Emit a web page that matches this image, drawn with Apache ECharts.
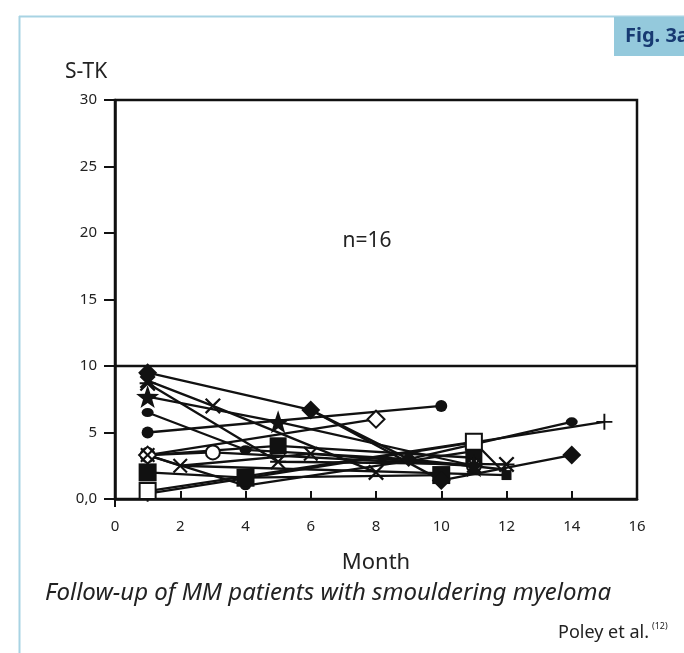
<!DOCTYPE html>
<html><head><meta charset="utf-8">
<script src="https://cdn.jsdelivr.net/npm/echarts@6/dist/echarts.min.js"></script>
<style>html,body{margin:0;padding:0;background:#fff}#c{width:684px;height:653px}</style>
</head><body><div id="c"></div>
<script>
// ---- data (month, S-TK) ----
const xTicks = [0,2,4,6,8,10,12,14,16];
const yTicks = [0,5,10,15,20,25,30];
const pDiamond   = [[1,9.5],[6,6.7],[10,1.4],[14,3.3]];
const pCross1    = [[1,8.9],[3,7.0],[8,2.0]];
const pCross2    = [[1,8.7],[5,2.8],[12,2.6]];
const pStar      = [[1,7.7],[5,5.8],[11,2.5]];
const pEllipse   = [[1,6.5],[4,3.7],[9,3.0],[14,5.8]];
const pCircle    = [[1,5.0],[10,7.0]];
const pOpenDiam  = [[1,3.3],[8,6.0]];
const pOpenCirc  = [[1,3.3],[3,3.5],[11,2.5]];
const pCross3    = [[1,3.3],[2,2.5],[6,3.4],[11,2.5]];
const pSmallDot  = [[1,3.3],[4,1.0],[11,3.6]];
const pSquare    = [[1,2.0],[4,1.6],[10,1.8]];
const pOpenSq    = [[1,0.6],[11,4.3],[12,1.8]];
const pPlus      = [[1,0.4],[15,5.8]];
const pSquare2   = [[1,3.3],[5,4.0],[11,3.1]];
const pDiamond2  = [[6,6.7],[9,3.0],[12,2.2]];
const pSmallSq   = [[2,2.5],[12,1.8]];
const refLine    = 10;
const nLabel     = 'n=16';

const X_PATH = 'path://M0,2 L2,0 L10,8 L18,0 L20,2 L12,10 L20,18 L18,20 L10,12 L2,20 L0,18 L8,10 Z';
const AST_PATH = 'path://M0,2 L2,0 L10,8 L18,0 L20,2 L12,10 L20,18 L18,20 L10,12 L2,20 L0,18 L8,10 Z M0,8.8 L20,8.8 L20,11.2 L0,11.2 Z';
const PLUS_PATH = 'path://M8.8,0 L11.2,0 L11.2,8.8 L20,8.8 L20,11.2 L11.2,11.2 L11.2,20 L8.8,20 L8.8,11.2 L0,11.2 L0,8.8 L8.8,8.8 Z';
const STAR_PATH = 'path://M0,-10 L2.35,-3.24 L9.51,-3.09 L3.8,1.24 L5.88,8.09 L0,4 L-5.88,8.09 L-3.8,1.24 L-9.51,-3.09 L-2.35,-3.24 Z';

function mk(data, symbol, size, extra) {
  return Object.assign({
    type: 'line', data: data, symbol: symbol, symbolSize: size,
    showAllSymbol: true, animation: false, silent: true,
    lineStyle: { color: '#111', width: 2.3 },
    itemStyle: { color: '#111', borderColor: '#111', borderWidth: 0 }
  }, extra || {});
}
// hide the marker of selected points (shared with another patient's marker)
function hideAt(arr, idxs) {
  return arr.map((p, i) => (idxs.indexOf(i) >= 0 ? { value: p, symbol: 'none' } : p));
}
const openItem = { itemStyle: { color: '#111', borderColor: '#111', borderWidth: 2.3 } };

const series = [
  mk(hideAt(pSmallDot, [0]), 'circle', [11,9]),
  mk(pSmallSq, 'none', 1, { showSymbol: false }),
  mk(pDiamond2, 'none', 1, { showSymbol: false }),
  mk(hideAt(pSquare2, [0]), 'rect', 17),
  mk(pPlus, PLUS_PATH, 16),
  mk(hideAt(pOpenSq, [2]), 'emptyRect', 16, openItem),
  mk(pSquare, 'rect', 18),
  mk(pOpenCirc, 'emptyCircle', 14, openItem),
  mk(pOpenDiam, 'emptyDiamond', 17, openItem),
  mk(pCross3, X_PATH, 15),
  mk(pCircle, 'circle', 12),
  mk(pEllipse, 'circle', [12,9]),
  mk(pStar, STAR_PATH, 23),
  mk(pCross2, AST_PATH, 16),
  mk(pCross1, X_PATH, 16),
  mk(pDiamond, 'diamond', 19),
  mk([[12,1.8]], 'rect', 10),
  mk([[9,3.0]], 'diamond', 16),
  mk([[0,refLine],[16,refLine]], 'none', 1, { showSymbol:false, lineStyle:{color:'#111', width:2.3} })
];

const chart = echarts.init(document.getElementById('c'), null, { renderer: 'canvas' });
const FONT = 'Noto Sans';
chart.setOption({
  animation: false,
  grid: { left: 115, right: 47, top: 100, bottom: 154, show: true, borderColor: '#111', borderWidth: 2.5, backgroundColor: 'transparent' },
  xAxis: {
    type: 'value', min: 0, max: 16, interval: 2,
    name: 'Month', nameLocation: 'middle', nameGap: 53,
    nameTextStyle: { fontFamily: FONT, fontSize: 22, color: '#222' },
    axisLine: { show: true, lineStyle: { color: '#111', width: 2.5 } },
    axisTick: { show: true, inside: true, length: 8, lineStyle: { color: '#111', width: 2 } },
    axisLabel: { fontFamily: FONT, fontSize: 15, color: '#222', margin: 20 },
    splitLine: { show: false }
  },
  yAxis: {
    type: 'value', min: 0, max: 30, interval: 5,
    axisLine: { show: true, lineStyle: { color: '#111', width: 2.5 } },
    axisTick: { show: true, inside: false, length: 11, lineStyle: { color: '#111', width: 2 } },
    axisLabel: { fontFamily: FONT, fontSize: 15, color: '#222', margin: 18,
      formatter: v => (v === 0 ? '0,0' : String(v)) },
    splitLine: { show: false }
  },
  graphic: [
    { type: 'line', shape: { x1: 19.5, y1: 16, x2: 19.5, y2: 653 }, style: { stroke: '#a8d3e3', lineWidth: 2 } },
    { type: 'line', shape: { x1: 19, y1: 16.5, x2: 684, y2: 16.5 }, style: { stroke: '#a8d3e3', lineWidth: 2 } },
    { type: 'rect', shape: { x: 614, y: 17, width: 70, height: 39 }, style: { fill: '#94c9dc' } },
    { type: 'text', x: 625, y: 36, style: { text: 'Fig. 3a', fontFamily: FONT, fontSize: 20, fontWeight: 'bold', fill: '#173a72', verticalAlign: 'middle' } },
    { type: 'text', x: 65, y: 72, style: { text: 'S-TK', fontFamily: FONT, fontSize: 21, fill: '#222', verticalAlign: 'middle' } },
    { type: 'text', x: 367, y: 241, style: { text: nLabel, fontFamily: FONT, fontSize: 21, fill: '#222', align: 'center', verticalAlign: 'middle' } },
    { type: 'text', x: 45, y: 593, style: { text: 'Follow-up of MM patients with smouldering myeloma', fontFamily: FONT, fontSize: 24, fontStyle: 'italic', fill: '#222', verticalAlign: 'middle' } },
    { type: 'text', x: 649, y: 633, style: { text: 'Poley et al.', fontFamily: FONT, fontSize: 18, fill: '#222', align: 'right', verticalAlign: 'middle' } },
    { type: 'text', x: 652, y: 626, style: { text: '(12)', fontFamily: FONT, fontSize: 9, fill: '#222', verticalAlign: 'middle' } },
    { type: 'line', shape: { x1: 115, y1: 499, x2: 115, y2: 507 }, style: { stroke: '#111', lineWidth: 2 } }
  ],
  series: series
});
</script></body></html>
